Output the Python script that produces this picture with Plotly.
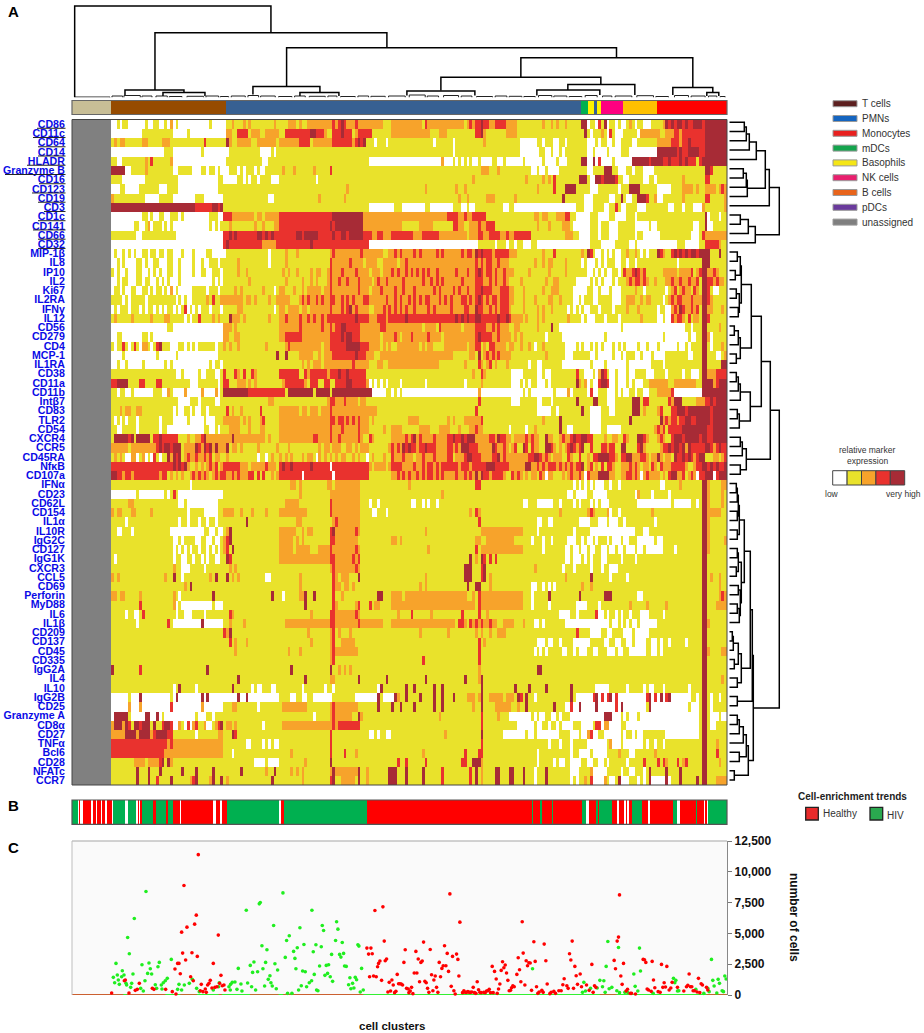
import plotly.graph_objects as go

W, H = 924, 1033

MARKERS = ["CD86","CD11c","CD64","CD14","HLADR","Granzyme B","CD16","CD123","CD19","CD3","CD1c","CD141","CD66","CD32",
           "MIP-1β","IL8","IP10","IL2","Ki67","IL2RA","IFNγ","IL12","CD56","CD279","CD4","MCP-1","IL1RA","CD38","CD11a",
           "CD11b","Intβ7","CD83","TLR2","CD54","CXCR4","CCR5","CD45RA","NfκB","CD107a","IFNα","CD23","CD62L","CD154",
           "IL1α","IL10R","IgG2C","CD127","IgG1K","CXCR3","CCL5","CD69","Perforin","MyD88","IL6","IL1β","CD209","CD137",
           "CD45","CD335","IgG2A","IL4","IL10","IgG2B","CD25","Granzyme A","CD8α","CD27","TNFα","Bcl6","CD28","NFATc","CCR7"]
UNDERLINE_FROM = [37,33,38,38,27,5,39,32,38,44,38,33,38,38]

# 0 low ... 4 very high, 5 unassigned
EXPR_COLORS = ["#FFFFFF","#E9E22B","#F7A32B","#E9322E","#A72B36","#808080"]

# one row per marker, 22 blocks of up to 10 clusters; a short block repeats its last value
ROWS = [
"0010110000 0010011001 0201000000 0000010000 0112111212 1111111121 1112221211 2222222223 2343222322 2222222111 2222222222 2132222222 2222221232 3343322333 3222211111 1111211212 1121111144 0110314011 0100121011 0001111243 4344343344 4344444444",
"0 0111111111 1100000100 0 0221133331 2221122222 1133333333 3443332113 3343331233 3331111111 2 2222111222 1111111111 3342111111 1222211111 1111111111 1111111114 1011121031 0001111102 2222221122 2332333333 3344444444",
"1212211111 1221111122 2111111111 1113111111 1421122222 1122222221 2222222333 3122222223 3333332343 4111011101 1 1111101111 1101111111 1112111111 1111110000 0011011100 1101111111 0001011001 0011110011 1111122222 3332334333 3344444444",
"0 0000000001 1100000000 0010000000 0011111111 1110000101 1 1 1 1 1 1 1101111111 1 1111110000 0001100100 1011111111 0010000100 0011100000 0000044444 4434334444 3344444444",
"1100111111 1121311111 1200000000 0 0111111111 1111001111 1 1 1 1100000000 0 0000000020 0010101010 0100001100 1000000100 0000100001 0001111144 0040300001 0000004444 4434444334 3334343331 3444444444",
"4444400111 1121111111 1100111110 0011011010 0011101011 1010011111 1211121111 1121111131 1 1 1 1 1 1122211121 1 0010010000 1111111111 0011114441 1000110111 0000111111 1 1144311111",
"1111000000 0011111111 1111000000 0000000011 0000011010 1101111000 1 1110111111 1 1 1 1 1111111112 1 1111111121 1111212131 1111111444 1004434444 3110011111 0011011111 1111211111 1133111111",
"0001100000 1111111000 1111000000 0000000011 1 1 1 1 1111211111 1 1 1121111111 1112112111 1 1111111111 1121111131 1144441111 1000111111 1011144441 1111100000 1111222212 1122221232",
"2111111111 1100000111 1100000000 1110000000 1 1111110011 1 1111211111 1112111111 1111111111 1 1 1111211211 1111222111 1111211111 1 1411111110 0011111100 1141001144 4311200111 1111211111 1133111112",
"4444444444 4444444444 4444444444 3333334434 1 1 1 1 1 1100000000 0111000000 0011000000 0011100100 1 0011000000 0000000000 0000001110 0011110011 3100111100 0111111110 0111011100 0211111112",
"0000000000 0110100110 0111010000 0000011100 3332222222 2122122222 3333333333 3333333334 4444444444 2222222222 2222222222 2222222222 3333223223 3333111111 1111111111 1221221112 2233110000 0111000011 0000111011 1111111111 1111111111 1140111011",
"0000000011 0012011101 0100000000 0000010101 1121111111 1211211122 3333333333 3333333343 4444444444 2222222222 2222111111 2222211111 1133221122 2322333111 1111111111 1121112111 1222100000 0111011100 0111111000 0010011111 1111111100 1140011111",
"1111111110 0111111111 1110000000 0000000000 3343433333 3344343433 3333334434 4444333334 3344344444 3332233222 3333333322 2333333222 2222222122 2332233332 2322333333 1111111111 1122211000 0111011100 0111111011 0000001111 1111111000 1322222222",
"0 0 0000000000 0 3433333333 3333222223 3333333333 3433333333 3333333333 3300000000 0000000000 0000000000 0000000000 0111111011 1011011000 1100000000 0000000000 0111100000 1111100100 0000000000 0011100000 1133333211",
"0100101010 0110110110 1100010001 0000110000 0111111111 1111110111 1121112111 1111111123 2222222223 2222222112 2323222232 3222223232 2222232332 4343332333 3322211111 1111211131 1111111121 4310010101 0011211210 1011143211 3434343443 4444111411",
"0010100001 1010011000 1100100001 0010011101 1111121111 1111110111 1121111111 1111111132 2222232222 1222211222 2212232222 2222222222 2222222222 3232332232 2211111111 1211212211 1121111101 0001010111 0011011011 1111111111 1101111111 1444111111",
"1010010001 1001010100 1100100001 0011001110 1111121121 1111111111 1212112111 1212211232 2232222322 2212221222 3232232323 2323223222 2223222322 3432332322 3222111112 1111112111 1121111111 0010101001 1013223432 3111111222 2212222312 3442232111",
"0010110001 1011001010 1000100000 0000001010 1111111112 1111111111 1121111121 1212111232 2322322232 2221232232 2222322222 2322323232 2222232222 3332232322 3211112111 1111121122 1111110000 0101010001 0111232332 3211211122 3223223223 1443323221",
"0110100110 0110101101 0201000001 1111011101 1111212111 1111211101 2211121121 2222212232 2222222232 2212223222 2322322232 2222232322 2232322322 3343332223 3322111211 1111211222 1111100000 1100100010 0011111211 0111111101 2312322132 1443100111",
"1111010111 1101111111 1110101001 1111213112 2222222122 1211112112 2222111232 3223232233 2232323222 3322222232 2323223232 3233222323 2322233232 3432323323 3322111211 1211112211 2111100101 1100111110 0011222112 1221111012 3233222322 2443211111",
"0101110111 0101101010 1101013010 1011101110 1111122111 1111111101 2212222122 1222222232 2232342322 2211222323 2323232232 2223232222 2322223322 4332232323 3321111211 1121211211 1110101010 0111011110 1111211121 1111101100 2324322323 1442211121",
"1211111211 1111211112 2111110101 1311112121 1142221211 1111112111 2232222322 3232232333 3333333433 3322233323 3333343333 3333333333 3334343433 4433333343 3432222121 1121211111 1112111101 0001110111 1011111112 1111100100 3233213122 1443111111",
"0000000000 0000000000 1100000000 0000000000 2221211111 1111111111 2222222322 2222232232 3344333332 2222223322 2222222222 2122221322 2222212222 3333223232 2211221111 1121111411 0000000000 0000000000 0010000000 0000000000 0000011011 1441111211",
"0011000000 0110100000 0000000000 0000000000 2211221111 1111111111 2233333322 2222222233 3343443332 2222221222 2321222322 2223222212 2222222222 3433332232 2221212111 1111101111 1000000000 0000001000 0000000000 0000000100 0000001001 1442011111",
"1011310131 0221013411 1000110101 0111111011 2121121111 1111121111 1123222222 2222212233 3333444443 3322221212 1122222222 1212211112 2222222122 3312133222 2122112112 1011211111 1100001010 0101010001 0101000010 0100010000 0010010111 1441011121",
"0000100000 0000001000 0001000000 0000000011 1111111111 1111111114 1141111222 2211212223 3333333433 3222112222 2222222222 2222222222 2211111122 1412323232 2221111111 1111121111 1100011111 1001000001 0010111001 0001000011 1111110011 1441110012",
"0010010000 0100000001 0100000000 0000010110 1111111111 1111111111 1111111121 2122212222 2222223222 2211122112 2222222222 2222222111 1111112111 1321231211 1211111110 1100111111 1000000000 0100001000 0000100000 0001111011 1111111111 1441111144",
"1111111111 1111111111 1110010000 0100111001 3111321311 3211111111 3333333113 2333333233 3433433333 3111111111 1111111111 1111111111 1111111112 1132111111 1110000111 1100100111 1111113110 0010243100 1000100111 1000111101 1111011000 1442223333",
"3344441111 3311113311 1111111100 0111111101 3311122212 1211111111 1233333332 1333113311 3333443333 3201010101 1110111111 1101111111 1111110111 1121111111 1110001010 1100010111 1111114212 0100344300 1000101000 1122222221 1222222221 1444423444",
"1101100100 0000011100 2100002000 0020000201 4444444443 3333333333 3314444444 4414444414 4444444444 4440000011 0101000000 0000000000 0000000000 0200000000 0000000101 0000000010 0002011111 0300111000 1010011011 0011122222 3000000000 0444444444",
"1111111111 1111111111 1111000011 1011111001 1111111111 1111112211 1111111111 1111111233 2223222212 2111111111 1 1111111111 1111111111 1311111111 1110001111 1100111011 1111114111 1144111000 1111114441 3311111113 2444111112 2233434444",
"1112122112 2111111111 1101001101 0011011111 1312112111 1113111111 2222222122 1222122232 2222222222 2222211111 1 1111111111 1111111111 3111111111 1111111111 1100000110 1111111141 1000011100 1111114441 2111123111 3344434444 4444344444",
"1010101110 1111111011 1100000100 0001000111 2222221212 1112311111 2222222222 2222222233 2332323232 2212111111 1111112222 1111111111 2121112222 2231111111 1111111111 1111211111 4111111111 1000011111 1111141111 1111114232 3323344334 4444344444",
"1100111110 1111111011 0000000000 0001100101 1122221112 1112211111 2222222222 2222222232 2232222232 2211111211 2222111111 2222111222 2111211122 3221111111 1101111101 1211111111 4110011111 1000011000 0011111111 1111232313 3333444444 4443344444",
"1444443414 4444133433 3333111211 2234222222 2224222222 2222212111 2222222222 2233222232 2322222232 1132111111 2222232342 3222232222 3343343444 2222233243 3221222232 3221142211 2322343344 3311112112 2113211144 3211123211 3444344444 3443344444",
"2222221222 2222223434 4344412222 4324342422 2412212111 1121111112 1112111111 1111212212 2211221212 2211111112 3232434332 3343332222 3323244433 3222224322 3212311431 3221144321 2123432341 1311133233 1144111134 2111112334 3443424333 3344323433",
"1212100220 1201031011 4243412322 3223231221 1211111111 1101101211 2121211121 2210212121 2122112121 1012111211 3222322212 2322232222 3312223443 3322223342 3222222223 3443232122 2113211311 2133444433 2133442223 3212242122 1433434323 4411122123",
"3333333333 3333333333 3343434211 2121232312 3333332221 2222232221 3433433333 3433333303 3333333333 3321222212 3333222232 2323323233 3333233323 3333444333 3322222244 2232323332 3232323341 2312131332 1122232321 2213213222 3333321123 3443434334",
"4433233233 3333333233 1212121123 2323212323 3223232223 3131311212 3333333303 3333333330 3333333333 3311111111 2232323223 2323323232 2223223232 4243323333 2113232121 2213202211 1212322320 3222444422 1122332320 2322221213 4422312320 3344403444",
"1111111111 1111111111 1111111101 1111111111 1111111111 1111111111 1111221211 1111111221 2222222221 1111111111 1111112111 1111111111 1111111111 3311111111 1111111111 1111111111 1111101010 1010001101 1011111111 1111110011 1112111111 1442111122",
"0000000001 0000000001 0131000000 0000000000 1111111111 1111111111 1111111211 1111111122 2222222221 1111111111 1 1111111121 1111111111 1111111111 1111111111 1111111111 1110010000 1100000111 1111111021 1110111110 1111111111 1442111121",
"1111112211 1111111111 1111001000 0000000011 1111111111 1111111111 1122222111 1111111132 2222222221 1101101111 1111111001 1010110111 1111111111 1111111111 1111111001 1100000011 0111101011 1010100011 1111111100 0000000000 1000000110 1442111121",
"2122111221 1111211111 1111111011 1110000011 2222112111 2111121111 2222222222 1111111132 2222222221 1110011101 1 1111111111 1111111121 3211111111 1111111111 1111111111 2111111111 2321111201 1011111111 1112111111 1111111111 1442222211",
"1111101111 1111111111 1111011011 1011011011 1111111141 1111111111 1111112211 1111111112 3222222221 1111111111 1 1111111111 1111111111 1311111111 1111111111 1100110011 1111111000 0111000100 0110111111 1111011111 1111111111 1442111111",
"1100111011 1111111111 1000000000 0001100100 1241111111 1111111111 2222221121 2211111134 2222222321 1111111111 1111111111 1121111111 1111111111 1122222222 2222222111 1101111111 1111101111 1000000000 0000000111 0011111111 1111111111 1442111111",
"1111111111 1111111111 1100101111 0011001001 2341111111 1111111111 2222212121 1111111133 2222222211 1111111111 2212111111 1111111111 1111111111 2211222222 2222111111 0111011011 1110001101 0010111010 0010011100 0000100111 1111111111 1442111112",
"1111111111 1111111111 1101010101 1011010101 2314111111 1111111111 2222212222 2111222232 2222222321 1111111111 1111111111 1112111111 1111111111 3122222222 2222222111 1111011111 1100100100 1001100100 1001000100 1000000111 1011111111 1442111111",
"1011111111 1111111111 1101100110 1101011001 1431111111 1111111111 2222222222 2222222233 2222223231 1111111111 1111111111 1111111111 1111111141 2143131311 1111111111 1111111111 1100100010 1011100111 1101111011 1111111111 1111111111 1441111111",
"1111111111 1111111111 1121100011 1110111111 1121211111 1111111111 1111111111 1111111123 2222222321 1111111111 1111111111 1111111111 1111114441 1134111111 1111111111 1211111111 1011101111 1011101100 0111111111 1111111111 1111111111 1441111111",
"2121111111 1111111112 1141101111 1111121411 1412121111 1111100111 1111111211 1111111113 2122211141 1111111111 1111111111 1121111111 1111114441 1134121111 1111111111 1111111111 1121111111 1411111101 1111011111 1111111111 1111111111 1441211211",
"1111111111 1111111111 1111112141 1111111111 1111111111 1111111111 1111111211 1111111113 2212212111 1111111111 1111111111 2121111111 1111111411 4411121111 1111111111 0011010101 1111111121 1211111111 1111111111 1111111111 1111111111 1441111211",
"2212211111 2111111111 1121011111 1111114111 1111111111 1111111411 1011111224 1141111113 1121111111 1111144111 2222122222 2222222222 2222222112 1322222222 2222222111 0111114111 1111111411 1111114441 1111111100 1111111111 1111111111 1441111232",
"1111111111 3111111111 1120100000 0000001000 1111111111 1111111111 1111111114 1111111113 2111111231 1131221111 2222222222 2222222222 2222222222 1322222222 2222222111 0111110111 1111110000 1111011111 1111121111 1211111121 1111111111 1441112222",
"1111101100 1311111111 1110110001 1110111111 1132111111 1111111111 1111111111 1211111133 2222222321 1111111111 1121111311 1111211111 1111131111 1311211111 1111111111 1111111111 0000110111 1113001011 0101101110 0011111011 1111111111 1441111111",
"1111111110 1111111111 3100000000 0040000000 1121111211 1111111111 1122222222 2222222233 2222222232 2222222111 2222222222 2222222222 2221332132 3232232211 2222111211 1001011111 1100000000 0000000010 0101010010 0000011111 1111111111 1442111111",
"1111111111 1111111111 1111111111 1111111111 3241111111 1111111111 1111111111 2111111123 1211121111 1111111111 1111111111 2111111111 2111111111 2121121122 2111111111 1111111111 1111113111 1000011001 1110001000 0011111111 1111111111 1441111111",
"1111111111 1111111111 1111111111 1111111111 1131211121 1111111111 1111111111 1211111123 1122222111 1111111111 1111111111 1111111111 1111111111 1312111111 1111111111 1100010011 0111100000 0111110011 0011001000 0110010110 1111101111 1441111111",
"1111111111 1111111111 1111111111 1111111111 1111211111 1111111111 1112111211 1111111123 2222222211 1111111111 1111111111 1111111111 1111111111 1311111111 1111111111 1010101111 1001101000 1100111000 1001100000 0110010111 1111111111 1442111122",
"1111111111 1111111111 1111111111 1111111111 1111111111 1111111111 1111111111 1111111123 1111111111 1111111111 1111111111 1311111111 1111111111 1311111111 1111111111 1111111111 1111111111 1111111111 1111111111 1111111111 1111111111 1441111111",
"4111111111 3111111111 1111111111 1111411111 1111111111 1111111111 1111411111 1111111141 1212121111 1111111111 1111111111 1111111111 1111111111 1211111111 1111111111 1144111111 1111111111 1111111111 1111111111 1111111111 1111111111 1441111111",
"1111111111 1111111111 1111111111 1111111111 1111141111 1111111111 1111111114 1111111122 1111111141 1111111141 1111111111 1141111111 1111114111 1241111111 1111111111 1111111111 1111111111 1111111111 1111111111 1111111111 1111111111 1441111121",
"1111111111 1111111111 1101411111 0111111111 1114111111 0100111001 1111111101 1111110110 1111111111 1111104111 1111141141 1111141141 1111111111 1141111111 1111411114 1111141111 1111411111 1110000011 1111011111 0100111011 1111110111 1441111111",
"0000001000 4000000000 0104000000 0040400000 0000040040 0000000000 1111001100 1100000001 1111111000 0000041000 0421141111 4111141141 1141111222 1241122222 1222143141 1011111111 1111410000 0034030340 3000000000 0340304034 0000000110 1441011011",
"0000002000 2000000000 0300000000 0020000000 1112211111 1101111111 1222222222 1111111123 2222222211 1111141111 4114111141 1111141141 1111111112 1141111222 2221121141 1111111141 1100300400 0004000000 3040000000 0140000000 0000001000 1441011111",
"0444441000 0044004010 0000000000 1000110111 1111111111 1111111111 1111111111 1101111123 2222221142 1111111111 1111111111 1111111211 1111111111 1131111121 1100000000 1010011001 0111000000 0000004440 0010100010 0000000000 0000000000 1441000100",
"2444243144 3444141134 4300210302 3112001234 1221211111 1111011111 1222222222 2222222223 2333333331 1111111111 1 1111111111 1111111111 1131111111 1111100000 0100110110 1000011100 0013302200 0011000000 0000000000 0000000000 1441001111",
"2222244442 4444234444 3311111111 0111111122 1114311111 1111111111 1111111111 1111111131 1111111111 1100101100 1111111111 1111111112 1111111111 1141111111 0000000010 0100000000 1111000100 2300110000 0010110100 1111111100 0000000000 1441111111",
"3333333333 3333333333 2322222222 2222222222 1111111100 1111010100 1111111111 1111111131 1111111111 1111111111 1111111111 1111111111 1111111111 1131111111 1111111111 1111110111 0111011111 0000000120 0010000000 1011011011 1111111111 1441112111",
"3333333333 3333333332 2222222222 2222222222 1110111111 1111111111 1111211111 1111111131 1113111211 1111111111 1111111111 1211111111 1111113111 1331111111 1111111111 1101111111 1111011000 0100000111 1211100111 1111211111 1111111111 1441113111",
"1111111122 2212222341 4211111111 1111111111 1111111111 1000010000 1111111112 1111111141 1111111111 1111111111 1131131111 1131111111 1111133114 4421111111 1111111111 1101111101 0011000011 0011001011 1111011111 3111131321 1131231111 1441111211",
"1111111114 1114111411 1111141111 4111114111 1111114111 1111121141 1111212121 1111111124 2222222241 1211111114 4411141111 1411111131 1111111131 4121111441 1144111411 1011141111 1111000111 1200000111 1101100111 0141111141 1114111111 1441111111",
"1111111114 1114113111 1411111123 4111124114 1211111111 1111111411 1111111121 1111111134 1122222141 1211111114 4411141111 1411111131 1111111131 4121111441 1144111411 1011141111 1111010112 1300002100 1400011101 0140000040 1114111114 1441112222",
]

CELLTYPE_EDGES = [0,118,463,1528,1547,1567,1574,1586,1652,1755,1965.6]
CELLTYPE_Z = [0,1,2,3,4,2,4,5,6,7]
CELLTYPE_COLORS = ["#C8BE96","#964B00","#376092","#00B050","#FFF200","#FF0080","#FFC000","#FF0000"]

TREND_EDGES = [0,19,22,25,32,56,64,72,76,87,91,99,104,119,123,159,167,192,198,202,205,209,244,252,283,287,303,324,328,422,433,444,450,465,622,628,635,885,
               1380,1384,1404,1409,1440,1444,1529,1543,1551,1572,1577,1582,1621,1635,1641,1656,1662,1666,1672,1679,1712,1729,1734,1805,1817,1824,1872,1876,1896,1901,1905,1910,1965.6]
TREND_STATE = [2,0,1,0,1,0,1,0,1,0,1,0,1,0,2,0,2,0,1,0,1,2,1,2,1,2,1,0,1,0,1,0,1,2,0,1,2,1,
               2,1,2,1,2,1,2,0,1,2,1,2,1,0,1,0,1,0,1,2,1,0,1,2,0,1,2,1,0,1,0,2]

LEGEND_NAMES = ["T cells","PMNs","Monocytes","mDCs","Basophils","NK cells","B cells","pDCs","unassigned"]
LEGEND_COLORS = ["#5C1F1F","#1565C0","#E8201F","#14A44D","#F5E615","#E81F6E","#E8641B","#6A3A9C","#7F7F7F"]

# left, right, left height, right height, top
COL_MERGES = [(8,597,0.5,64.8,91.5),(249,945,7.5,49.8,64.8),(644,1634,11,39.8,49.8),(1347,1863,20.2,10,39.8),
              (1107,1587,7,13,20.2),(1488,1689,7.5,2.5,13),(1395,1584,2,2.5,7.5),(1803,1923,2.5,5,10),(1905,1941,1.5,1.5,5),
              (543,744,3,5,11),(684,801,1.5,1.5,5),(159,336,2.5,5,7.5),(273,399,1.5,1.5,5),(1005,1209,2,2,6.5)]
LEAF_MERGES = [(8,114,0.5),(120,152,1.5),(156,205,2),(210,240,1.5),(252,286,1.5),(292,330,1),(345,395,1.2),(402,440,1.5),(445,470,1),(478,520,1.5),
               (528,560,2),(566,610,1.5),(620,660,1),(668,700,1.5),(712,760,1.2),(768,795,1.5),(806,850,1),(858,890,1.5),(897,940,1.2),(950,1000,1.5),
               (1012,1060,2.5),(1066,1100,1.5),(1115,1160,2),(1168,1200,1.5),(1214,1262,1),(1270,1305,1.5),(1312,1350,1.2),(1356,1390,1),
               (1400,1440,2),(1446,1485,1.5),(1492,1530,1),(1540,1576,2),(1592,1620,1.5),(1630,1680,1.5),(1695,1745,1.8),(1752,1790,1),
               (1808,1850,2),(1858,1900,1.5),(1910,1935,1.5),(1945,1960,1)]

# nested merges: (distance, left, right), a bare number is a marker row
G14 = (12,(11,(8,14,15),(6,16,17)),(10,(7,18,19),(9,20,21)))
G22 = (11,(9,(5,22,23),24),(7,25,26))
G27 = (21,(11,(9,(7,27,28),29),30),(10,(8,31,32),33))
G34 = (17,(13,(11,34,35),36),(11,37,38))
G39 = (15,(10,(9,(8,(7,39,40),41),(8,42,43)),(8,44,45)),(12,(9,(8,46,47),(7,48,49)),(11,(9,50,51),(10,(8,52,53),54))))
G55 = (12,(9,(4,(3,55,56),57),(5,58,59)),(8,60,61))
G64 = (19,(17,(14,(10,(8,64,65),66),67),(10,68,69)),(5,70,71))
TREE_A = (50,(40,(36,(27,(20,(17,(15,0,1),2),3),4),(18,(17,(14,5,6),7),8)),9),(26,(19,(11,10,11),12),13))
TREE_B = (50,(41,(32,(22,G14,G22),G27),G34),(24,(23,(21,G39,G55),(8,62,63)),G64))

# cluster rank, number of cells
HEALTHY = [(379,11394),(336,8883),(373,6480),(345,5508),(368,5751),(329,5103),(439,4860),(909,6858),(933,7155),(1134,8208),(1164,5913),(937,4374),
           (885,3807),(897,3807),(890,3321),(901,3348),(1055,4293),(1000,3672),(1032,3537),(1075,3699),(1118,3996),(1126,3375),(1142,3132),(1154,3321),
           (1158,2889),(332,3402),(360,3429),(376,3132),(341,2835),(424,2565),(317,2565),(321,2565),(309,2106),(325,1728),(356,1485),(364,1161),(157,1161),
           (160,1215),(202,945),(196,459),(190,378),(241,540),(246,459),(281,459),(301,270),(312,81),(447,1593),(415,1188),(411,945),(407,810),(388,864),
           (385,351),(393,270),(400,486),(403,216),(420,567),(429,621),(435,675),(443,945),(451,756),(456,810),(459,405),(119,162),(171,162),(944,2916),
           (940,2781),(924,2754),(920,2565),(917,2295),(893,1485),(905,1539),(913,1485),(929,1188),(976,1674),(960,1215),(952,1026),(964,810),(956,324),
           (948,243),(972,297),(968,189),(980,918),(984,918),(988,891),(992,810),(1004,540),(1009,486),(1019,621),(1015,324),(1011,189),(1023,108),(996,2646),
           (1039,2916),(1051,2754),(1047,2646),(1027,1782),(1035,1782),(1043,1080),(1059,1107),(1063,999),(1079,1647),(1090,1539),(1086,1215),(1067,540),
           (1083,351),(1071,216),(1094,621),(1098,216),(1102,2646),(1114,2376),(1122,2376),(1110,2160),(1106,1485),(1130,1917),(1138,702),(1146,351),(1150,81),
           (1161,1539),(1351,5940),(1643,8127),(1386,4320),(1417,4131),(1501,4374),(1636,4374),(1640,4698),(1493,3348),(1339,3024),(1354,3402),(1422,2781),
           (1390,2727),(1363,2781),(1367,2376),(1371,2619),(1375,2592),(1497,2835),(1509,2322),(1261,2322),(1268,1917),(1292,2700),(1300,2430),(1296,2214),
           (1288,1998),(1304,1782),(1273,1296),(1308,1188),(1284,891),(1280,486),(1312,351),(1316,378),(1319,594),(1323,756),(1327,675),(1335,1674),(1343,2052),
           (1347,1080),(1359,810),(1379,378),(1394,675),(1402,243),(1398,135),(1410,378),(1414,216),(1426,891),(1434,108),(1438,216),(1446,297),(1451,135),
           (1461,351),(1468,351),(1473,837),(1477,1323),(1485,756),(1489,540),(1505,540),(1513,1566),(1525,1701),(1517,864),(1529,675),(1544,810),(1552,378),
           (1560,2484),(1564,216),(1568,756),(1572,621),(1627,2808),(1631,2133),(1647,1539),(1655,2565),(1651,864),(1741,2727),(1745,1215),(1718,2862),(1714,2889),
           (1722,2646),(1726,486),(1730,405),(1738,297),(1749,594),(1759,270),(1765,216),(1769,2484),(1777,999),(1773,621),(1781,648),(1785,2322),(1801,1026),
           (1797,567),(1792,405),(1817,621),(1852,1701),(1848,783),(1844,675),(1836,324),(1856,675),(1860,675),(1864,351),(1868,351),(1880,1350),(1876,243),
           (1884,189),(1888,918),(1892,810),(1904,621),(1908,405),(1663,324),(1667,459),(1675,135),(1679,135),(1691,81),(1204,621),(1216,1080),(1220,432),
           (1224,216),(1228,189),(1236,216),(1240,189),(1244,324),(1248,351),(1252,459),(1172,189),(1176,351),(1180,216),(1184,216),(1188,270),(1192,216),
           (1196,216),(1200,243),(1208,189),(1212,135),(1256,189),(1264,189),(1276,135)]
HIV = [(132,2565),(124,1431),(136,1620),(128,999),(142,864),(139,1215),(151,1971),(156,1620),(149,1485),(162,945),(164,810),(167,4671),(172,3348),(187,6210),
       (183,1701),(179,945),(176,621),(210,2457),(222,8397),(231,2592),(227,1755),(235,2133),(239,1701),(219,1161),(206,540),(214,324),(250,837),(254,540),
       (262,2646),(258,2295),(274,999),(268,810),(280,1161),(286,1350),(270,486),(298,2889),(317,459),(321,864),(337,810),(329,405),(352,945),(361,1269),
       (374,540),(382,270),(442,999),(440,675),(424,405),(471,675),(476,864),(481,1026),(489,1053),(475,405),(495,459),(507,891),(510,324),(527,972),(539,675),
       (551,405),(499,2160),(535,2403),(542,1836),(546,2673),(557,1890),(573,2133),(581,2646),(578,729),(609,2538),(617,2025),(594,1566),(589,1269),(597,999),
       (601,729),(613,513),(523,6885),(562,7398),(565,7506),(605,5643),(633,8289),(570,3996),(585,3672),(644,4428),(652,4806),(684,5454),(720,6885),(665,3537),
       (676,3834),(696,4104),(640,3051),(669,2970),(672,2133),(692,1944),(700,1890),(719,1161),(712,999),(704,675),(688,756),(680,405),(727,1674),(724,3510),
       (732,4077),(748,3915),(751,5643),(755,5238),(794,5940),(798,5346),(791,4428),(811,4266),(779,3294),(803,3294),(807,3078),(815,3375),(743,2349),(763,2403),
       (770,2457),(759,1593),(767,1755),(775,1485),(782,1107),(818,2349),(823,2322),(858,4077),(861,3969),(869,2160),(834,1404),(850,1431),(854,1242),(842,945),
       (830,837),(846,567),(837,513),(874,405),(865,243),(738,351),(734,405),(647,135),(660,135),(1608,4347),(1603,2322),(1640,3861),(1382,2133),(1703,3807),
       (1706,1944),(1686,1701),(1690,702),(1698,324),(1536,1026),(1541,324),(1532,216),(1556,540),(1576,567),(1584,1188),(1596,1161),(1592,675),(1600,216),
       (1612,513),(1620,621),(1635,351),(1643,189),(1659,216),(1667,216),(1744,135),(1805,1350),(1812,1188),(1809,999),(1821,351),(1817,324),(1872,459),(1896,135),
       (1908,540),(1912,270),(1919,2889),(1923,1188),(1927,729),(1939,1269),(1943,945),(1935,162),(1951,351),(1955,270),(1959,1539),(1963,1296)]
# stretches of clusters with no healthy-enriched cells counted above zero
ZERO_RED_RUNS = [(0,154),(164,280),(325,375),(440,450),(534,620),(634,874),(1584,1634),(1904,1965)]

TICKS = [0,2500,5000,7500,10000,12500]


def hdom(a, b):
    return [a / W, b / W]


def vdom(top, bottom):
    return [1 - bottom / H, 1 - top / H]


def stepped(colors):
    n = len(colors)
    out = []
    for i, c in enumerate(colors):
        out += [[i / n, c], [(i + 1) / n, c]]
    return out


def expand(row):
    cells = []
    for tok in row.split():
        tok = (tok + tok[-1] * 10)[:10]
        cells += [int(c) for c in tok]
    cells += [cells[-1]] * (220 - len(cells))
    return [5] * 14 + cells[:220]


z = [expand(r) for r in ROWS]

fig = go.Figure()

# heatmap
fig.add_trace(go.Heatmap(z=z, x0=4.2, dx=8.4, y=list(range(72)), zmin=-0.5, zmax=5.5, colorscale=stepped(EXPR_COLORS),
                         showscale=False, hoverinfo="skip", xaxis="x", yaxis="y"))
# cell type bar
fig.add_trace(go.Heatmap(z=[CELLTYPE_Z], x=CELLTYPE_EDGES, y=[0], zmin=-0.5, zmax=7.5, colorscale=stepped(CELLTYPE_COLORS),
                         showscale=False, hoverinfo="skip", xaxis="x", yaxis="y2"))
# trend bar
fig.add_trace(go.Heatmap(z=[TREND_STATE], x=TREND_EDGES, y=[0], zmin=-0.5, zmax=2.5, colorscale=stepped(["#FFFFFF","#FF0000","#00B050"]),
                         showscale=False, hoverinfo="skip", xaxis="x", yaxis="y3"))

# column dendrogram
dx, dy = [], []
for a, b, ha, hb, top in COL_MERGES:
    dx += [a, a, b, b, None]
    dy += [ha, top, top, hb, None]
lx, ly = [], []
for a, b, top in LEAF_MERGES:
    lx += [a, a, b, b, None]
    ly += [0, top, top, 0, None]
fig.add_trace(go.Scatter(x=lx, y=ly, mode="lines", line=dict(color="#222222", width=1), hoverinfo="skip", xaxis="x", yaxis="y4"))
fig.add_trace(go.Scatter(x=dx, y=dy, mode="lines", line=dict(color="black", width=1.5), hoverinfo="skip", xaxis="x", yaxis="y4"))


# row dendrogram
def walk(node, xs, ys):
    if isinstance(node, int):
        return node, 0
    d, left, right = node
    y1, d1 = walk(left, xs, ys)
    y2, d2 = walk(right, xs, ys)
    xs += [d1, d, d, d2, None]
    ys += [y1, y1, y2, y2, None]
    return (y1 + y2) / 2, d


tx, ty = [], []
walk(TREE_A, tx, ty)
walk(TREE_B, tx, ty)
fig.add_trace(go.Scatter(x=tx, y=ty, mode="lines", line=dict(color="black", width=1.5), hoverinfo="skip", xaxis="x2", yaxis="y5"))

# zero line, then the dots
fig.add_trace(go.Scatter(x=[0, 1965.6], y=[0, 0], mode="lines", line=dict(color="#33F033", width=1.8), hoverinfo="skip", cliponaxis=False, xaxis="x", yaxis="y6"))
zx, zy = [], []
for a, b in ZERO_RED_RUNS:
    zx += [a, b, None]
    zy += [0, 0, None]
fig.add_trace(go.Scatter(x=zx, y=zy, mode="lines", line=dict(color="#FF3030", width=1.4), hoverinfo="skip", cliponaxis=False, xaxis="x", yaxis="y6"))
for pts, col in [(HIV, "#1FEE1F"), (HEALTHY, "#FF0000")]:
    fig.add_trace(go.Scatter(x=[p[0] for p in pts], y=[p[1] for p in pts], mode="markers", marker=dict(color=col, size=3.6),
                             hoverinfo="skip", cliponaxis=False, xaxis="x", yaxis="y6"))

shapes = []
annots = []


def rect(x0, y0, x1, y1, fill=None, line="#555555", lw=1, layer="above"):
    shapes.append(dict(type="rect", xref="paper", yref="paper", x0=x0 / W, x1=x1 / W, y0=1 - y0 / H, y1=1 - y1 / H,
                       fillcolor=fill if fill else "rgba(0,0,0,0)", line=dict(color=line, width=lw), layer=layer))


def label(x, y, text, size=10, color="#333333", bold=False, anchor="left", angle=0):
    annots.append(dict(xref="paper", yref="paper", x=x / W, y=1 - y / H, text=f"<b>{text}</b>" if bold else text, showarrow=False,
                       xanchor=anchor, yanchor="middle", textangle=angle, font=dict(size=size, color=color), borderpad=0))


rect(72, 119.5, 727, 785, line="#444444")
rect(72, 100.5, 727, 114.5, line="#666666", lw=1.2)
rect(72, 800, 727, 824.3, line="#555555", lw=1.2)
rect(72, 841, 727, 995, fill="#FAFAFA", line="rgba(0,0,0,0)", lw=0, layer="below")
shapes.append(dict(type="line", xref="paper", yref="paper", x0=72 / W, x1=727 / W, y0=1 - 841 / H, y1=1 - 841 / H, line=dict(color="#A6A6A6", width=1.2)))
shapes.append(dict(type="line", xref="paper", yref="paper", x0=72 / W, x1=72 / W, y0=1 - 841 / H, y1=1 - 995 / H, line=dict(color="#BDBDBD", width=1)))

for i, start in enumerate(UNDERLINE_FROM):
    shapes.append(dict(type="line", xref="paper", yref="y", x0=start / W, x1=65.5 / W, y0=i + 0.45, y1=i + 0.45, line=dict(color="#222222", width=1)))

for letter, y in [("A", 11), ("B", 805), ("C", 847)]:
    label(7, y, letter, size=15, color="black", bold=True)

for i, (name, col) in enumerate(zip(LEGEND_NAMES, LEGEND_COLORS)):
    y = 103.7 + 14.8 * i
    rect(833, y - 3, 857, y + 3, fill=col, line="#9A9A9A", lw=1)
    label(861, y, name, size=10)

label(867, 450, "relative marker", size=8.5, anchor="center")
label(867, 461, "expression", size=8.5, anchor="center")
for i, col in enumerate(EXPR_COLORS[:5]):
    rect(832.7 + 14.4 * i, 470.7, 847.1 + 14.4 * i, 485, fill=col, line="#444444", lw=1)
label(832, 494, "low", size=8.5, anchor="center")
label(903, 494, "very high", size=8.5, anchor="center")

label(852, 796, "Cell-enrichment trends", size=10, color="#222222", bold=True, anchor="center")
rect(805.7, 807.3, 818.3, 820, fill="#E92B2B", line="#222222", lw=1.3)
label(821.7, 813, "Healthy", size=10)
rect(870, 807.3, 882.7, 820, fill="#2AA84F", line="#222222", lw=1.3)
label(886, 815, "HIV", size=10)

label(794, 917, "number of cells", size=12, color="#111111", bold=True, anchor="center", angle=90)
label(392, 1025.7, "cell clusters", size=11.5, color="#111111", bold=True, anchor="center")

hidden = dict(visible=False, fixedrange=True, automargin=False)
fig.update_layout(
    width=W, height=H, margin=dict(l=0, r=0, t=0, b=0, autoexpand=False), paper_bgcolor="white", plot_bgcolor="rgba(0,0,0,0)",
    showlegend=False, font=dict(family="Liberation Sans, Arial, sans-serif"), shapes=shapes, annotations=annots,
    xaxis=dict(domain=hdom(72, 727), range=[0, 1965.6], **hidden),
    xaxis2=dict(domain=hdom(729.3, 780.3), range=[0, 51], **hidden),
    yaxis=dict(domain=vdom(119.5, 785), range=[71.5, -0.5], tickmode="array", tickvals=list(range(72)), ticktext=MARKERS, automargin=False,
               tickfont=dict(size=10.6, color="#0A0AE6", family="Liberation Sans", weight="bold"), ticks="outside", ticklen=4, tickcolor="rgba(0,0,0,0)",
               showline=False, showgrid=False, zeroline=False, fixedrange=True, anchor="x"),
    yaxis2=dict(domain=vdom(100.5, 114.5), anchor="x", **hidden),
    yaxis3=dict(domain=vdom(800, 824.3), anchor="x", **hidden),
    yaxis4=dict(domain=vdom(5, 97.5), range=[0, 92.5], anchor="x", **hidden),
    yaxis5=dict(domain=vdom(117.7, 784.6), range=[71.5, -0.5], anchor="x2", **hidden),
    yaxis6=dict(domain=vdom(841, 995), range=[0, 12500], side="right", anchor="x", tickmode="array", tickvals=TICKS, tickformat=",d", automargin=False,
                ticks="outside", ticklen=4, tickcolor="#777777", showline=True, linecolor="#888888", linewidth=1.2, showgrid=False, zeroline=False,
                tickfont=dict(size=12, color="#111111", family="Liberation Sans", weight="bold"), fixedrange=True),
)

fig.write_html("out.html", config=dict(displayModeBar=False),
               post_script="document.body.style.margin='0';document.body.style.overflow='hidden';")
